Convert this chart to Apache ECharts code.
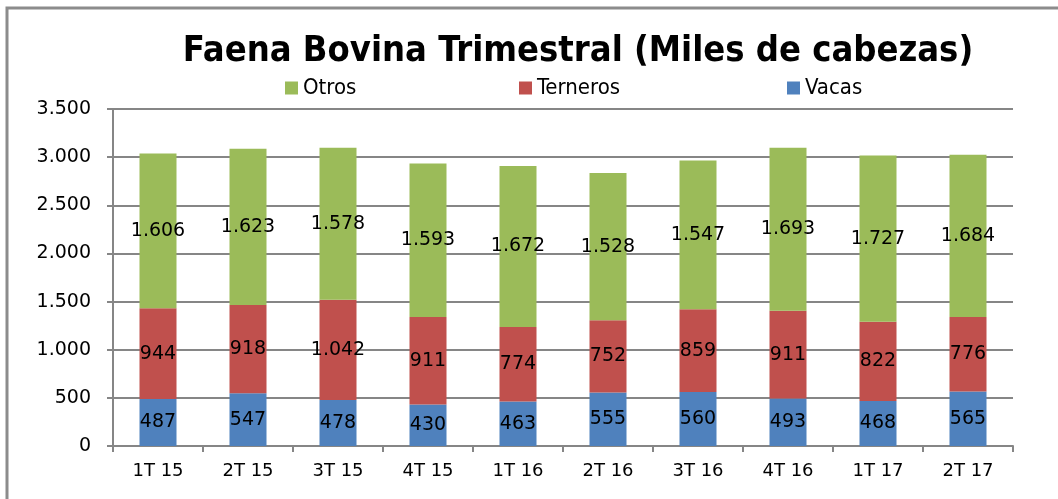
<!DOCTYPE html>
<html><head><meta charset="utf-8">
<script src="https://cdn.jsdelivr.net/npm/echarts@6/dist/echarts.min.js"></script>
<style>html,body{margin:0;padding:0;background:#fff}#c{width:1058px;height:499px}</style>
</head><body><div id="c"></div>
<script>
const categories = ['1T 15','2T 15','3T 15','4T 15','1T 16','2T 16','3T 16','4T 16','1T 17','2T 17'];
const vacas    = [487, 547, 478, 430, 463, 555, 560, 493, 468, 565];
const terneros = [944, 918, 1042, 911, 774, 752, 859, 911, 822, 776];
const otros    = [1606, 1623, 1578, 1593, 1672, 1528, 1547, 1693, 1727, 1684];
const yTicks = {min: 0, max: 3500, interval: 500};

const fmt = v => String(v).replace(/\B(?=(\d{3})+(?!\d))/g, '.');
const narrow = "'Liberation Sans Narrow', 'DejaVu Sans Condensed', 'Liberation Sans', sans-serif";
const reg = "'DejaVu Sans', 'Liberation Sans', sans-serif";
const lab = {show: true, position: 'inside', color: '#000', fontSize: 19, fontFamily: reg, formatter: p => fmt(p.value)};
const chart = echarts.init(document.getElementById('c'));
const legendCommon = {top: 72, itemWidth: 13, itemHeight: 13, icon: 'rect', itemGap: 0,
  textStyle: {fontSize: 22, fontFamily: narrow, color: '#000', padding: [0,0,0,0]}, selectedMode: false};
chart.setOption({
  animation: false,
  graphic: [{type: 'polyline', shape: {points: [[7, 499], [7, 8], [1058, 8]]}, style: {stroke: '#8c8c8c', lineWidth: 3, fill: null}}],
  title: {text: 'Faena Bovina Trimestral (Miles de cabezas)', left: 573, textAlign: 'center', top: 29,
    textStyle: {fontSize: 36, fontWeight: 'bold', fontFamily: narrow, color: '#000'}},
  legend: [
    Object.assign({}, legendCommon, {left: 280, data: ['Otros']}),
    Object.assign({}, legendCommon, {left: 514, data: ['Terneros']}),
    Object.assign({}, legendCommon, {left: 782, data: ['Vacas']})
  ],
  grid: {left: 113, right: 45, top: 109, bottom: 53, containLabel: false},
  xAxis: {type: 'category', data: categories,
    axisLine: {lineStyle: {color: '#868686', width: 2}},
    axisTick: {show: true, length: 6, lineStyle: {color: '#868686', width: 2}},
    axisLabel: {color: '#000', fontSize: 18, fontFamily: reg, margin: 16}},
  yAxis: {type: 'value', min: yTicks.min, max: yTicks.max, interval: yTicks.interval,
    axisLine: {show: true, lineStyle: {color: '#868686', width: 2}},
    axisTick: {show: true, length: 6, lineStyle: {color: '#868686', width: 2}},
    splitLine: {lineStyle: {color: '#868686', width: 2}},
    axisLabel: {color: '#000', fontSize: 19, fontFamily: reg, margin: 22, formatter: v => fmt(v)}},
  series: [
    {name: 'Vacas', type: 'bar', stack: 't', data: vacas, barWidth: 37, itemStyle: {color: '#4F81BD'}, label: lab},
    {name: 'Terneros', type: 'bar', stack: 't', data: terneros, barWidth: 37, itemStyle: {color: '#C0504D'}, label: lab},
    {name: 'Otros', type: 'bar', stack: 't', data: otros, barWidth: 37, itemStyle: {color: '#9BBB59'}, label: lab}
  ]
});
</script></body></html>
